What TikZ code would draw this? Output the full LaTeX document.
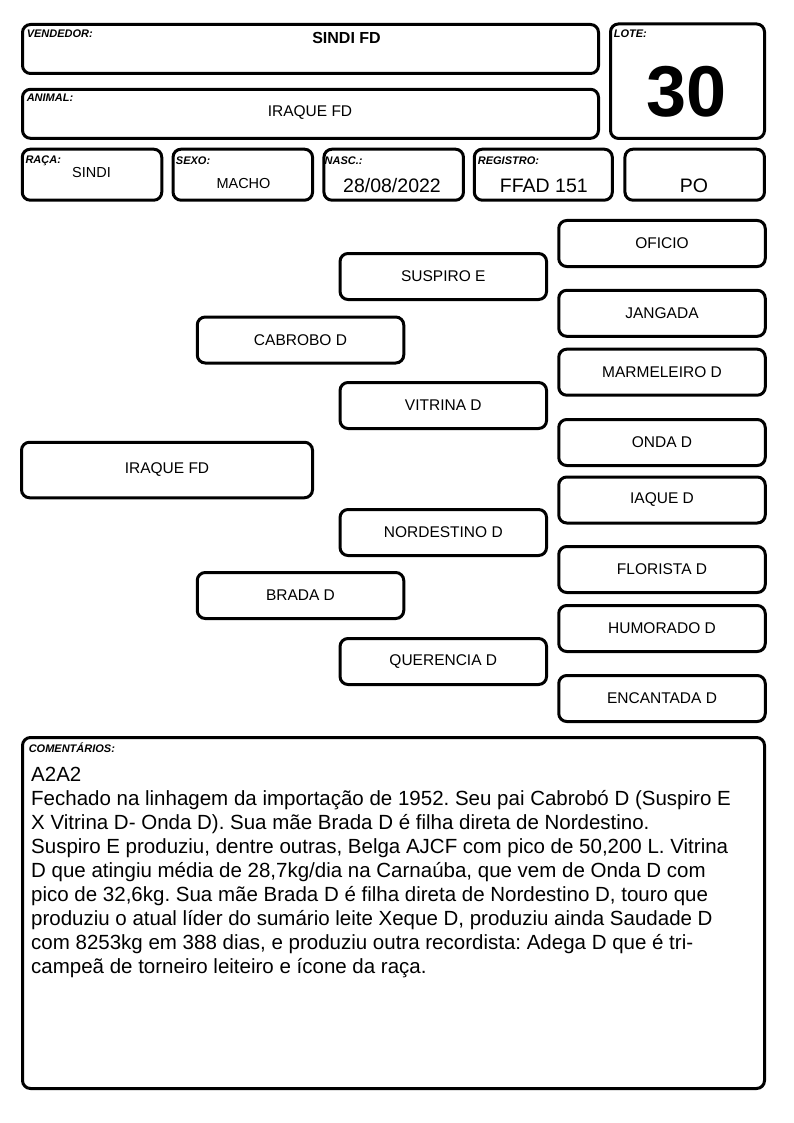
\documentclass[tikz,border=0pt]{standalone}
\usepackage{fontspec}
\setmainfont{Liberation Sans}
\usetikzlibrary{positioning}
\frenchspacing

\begin{document}
\begin{tikzpicture}[
    x=1pt, y=-1pt,
    nosep/.style={inner sep=0},
    box/.style={draw, rectangle, line width=3pt, rounded corners=8pt, nosep},
    field/.style={box, minimum width=139.5pt, minimum height=51pt},
    pbox/.style={box, minimum width=206.5pt, minimum height=46pt, font=\fontsize{15.5}{18}\selectfont},
    caption/.style={nosep, text height=7.8pt, text depth=0pt, font=\fontsize{11}{13}\selectfont\bfseries\itshape},
    value/.style={nosep, font=\fontsize{14.5}{17}\selectfont},
    bigvalue/.style={nosep, font=\fontsize{19.5}{22}\selectfont},
    notes/.style={nosep, align=left, font=\fontsize{20.5}{24}\selectfont}]
\useasboundingbox (0,0) rectangle (794,1123);

\node[box, minimum width=576pt, minimum height=49pt] (vendedor) at (310.5,49) {};
\node[box, minimum width=576pt, minimum height=49pt] (animal) at (310.5,113.8) {};
\node[box, minimum width=154pt, minimum height=114.5pt] (lote) at (687.5,81.2) {};
\node[field] (raca) at (92,174.7) {};
\node[field] (sexo) at (242.8,174.7) {};
\node[field] (nasc) at (393.7,174.7) {};
\node[field, minimum width=138pt] (registro) at (543.3,174.7) {};
\node[field] (categoria) at (694.7,174.7) {};
\node[box, minimum width=742pt, minimum height=351pt] (comentarios) at (393.5,913) {};

\node[caption, below right=7pt and 5.6pt of vendedor.north west] {VENDEDOR:};
\node[caption, below right=5.6pt and 5.6pt of animal.north west] {ANIMAL:};
\node[caption, below right=7pt and 4.6pt of lote.north west] {LOTE:};
\node[caption, below right=7.8pt and 4.6pt of raca.north west] {RAÇA:};
\node[caption, below right=8.8pt and 4.2pt of sexo.north west] {SEXO:};
\node[caption, below right=9pt and 2pt of nasc.north west] {NASC.:};
\node[caption, below right=8.8pt and 4.9pt of registro.north west] {REGISTRO:};
\node[caption, below right=8.5pt and 7.6pt of comentarios.north west] {COMENTÁRIOS:};

\node[value, font=\fontsize{16}{19}\selectfont\bfseries] (nomevendedor) at (346.5,37.5) {SINDI FD};
\node[value, font=\fontsize{15.5}{18}\selectfont] (nomeanimal) at (310,113) {IRAQUE FD};
\node[nosep, font=\fontsize{72}{80}\selectfont\bfseries] (numlote) at (686.5,91.5) {30};
\node[value] (nomeraca) at (91.5,172.5) {SINDI};
\node[value] (nomesexo) at (243.5,183.5) {MACHO};
\node[bigvalue] (datanasc) at (392,185.8) {28/08/2022};
\node[bigvalue] (numregistro) at (543.8,185.8) {FFAD 151};
\node[bigvalue] (nomecategoria) at (694,185.8) {PO};

\node[pbox, minimum width=291pt, minimum height=55.5pt] (iraque) at (167,470) {IRAQUE FD};
\node[pbox] (cabrobo) at (300.5,340) {CABROBO D};
\node[pbox] (brada) at (300.5,595.5) {BRADA D};
\node[pbox] (suspiro) at (443.3,276.5) {SUSPIRO E};
\node[pbox] (vitrina) at (443.3,405.5) {VITRINA D};
\node[pbox] (nordestino) at (443.3,532.5) {NORDESTINO D};
\node[pbox] (querencia) at (443.3,661.5) {QUERENCIA D};
\node[pbox] (oficio) at (662,243.5) {OFICIO};
\node[pbox] (jangada) at (662,313.3) {JANGADA};
\node[pbox] (marmeleiro) at (662,372.2) {MARMELEIRO D};
\node[pbox] (onda) at (662,442.5) {ONDA D};
\node[pbox] (iaque) at (662,500) {IAQUE D};
\node[pbox] (florista) at (662,569.5) {FLORISTA D};
\node[pbox] (humorado) at (662,628.5) {HUMORADO D};
\node[pbox] (encantada) at (662,698.5) {ENCANTADA D};

\node[notes, anchor=base west] (texto) at (31,973) {A2A2\\
Fechado na linhagem da importação de 1952. Seu pai Cabrobó D (Suspiro E\\
X Vitrina D- Onda D). Sua mãe Brada D é filha direta de Nordestino.\\
Suspiro E produziu, dentre outras, Belga AJCF com pico de 50,200 L. Vitrina\\
D que atingiu média de 28,7kg/dia na Carnaúba, que vem de Onda D com\\
pico de 32,6kg. Sua mãe Brada D é filha direta de Nordestino D, touro que\\
produziu o atual líder do sumário leite Xeque D, produziu ainda Saudade D\\
com 8253kg em 388 dias, e produziu outra recordista: Adega D que é tri-\\
campeã de torneiro leiteiro e ícone da raça.};

\end{tikzpicture}
\end{document}
